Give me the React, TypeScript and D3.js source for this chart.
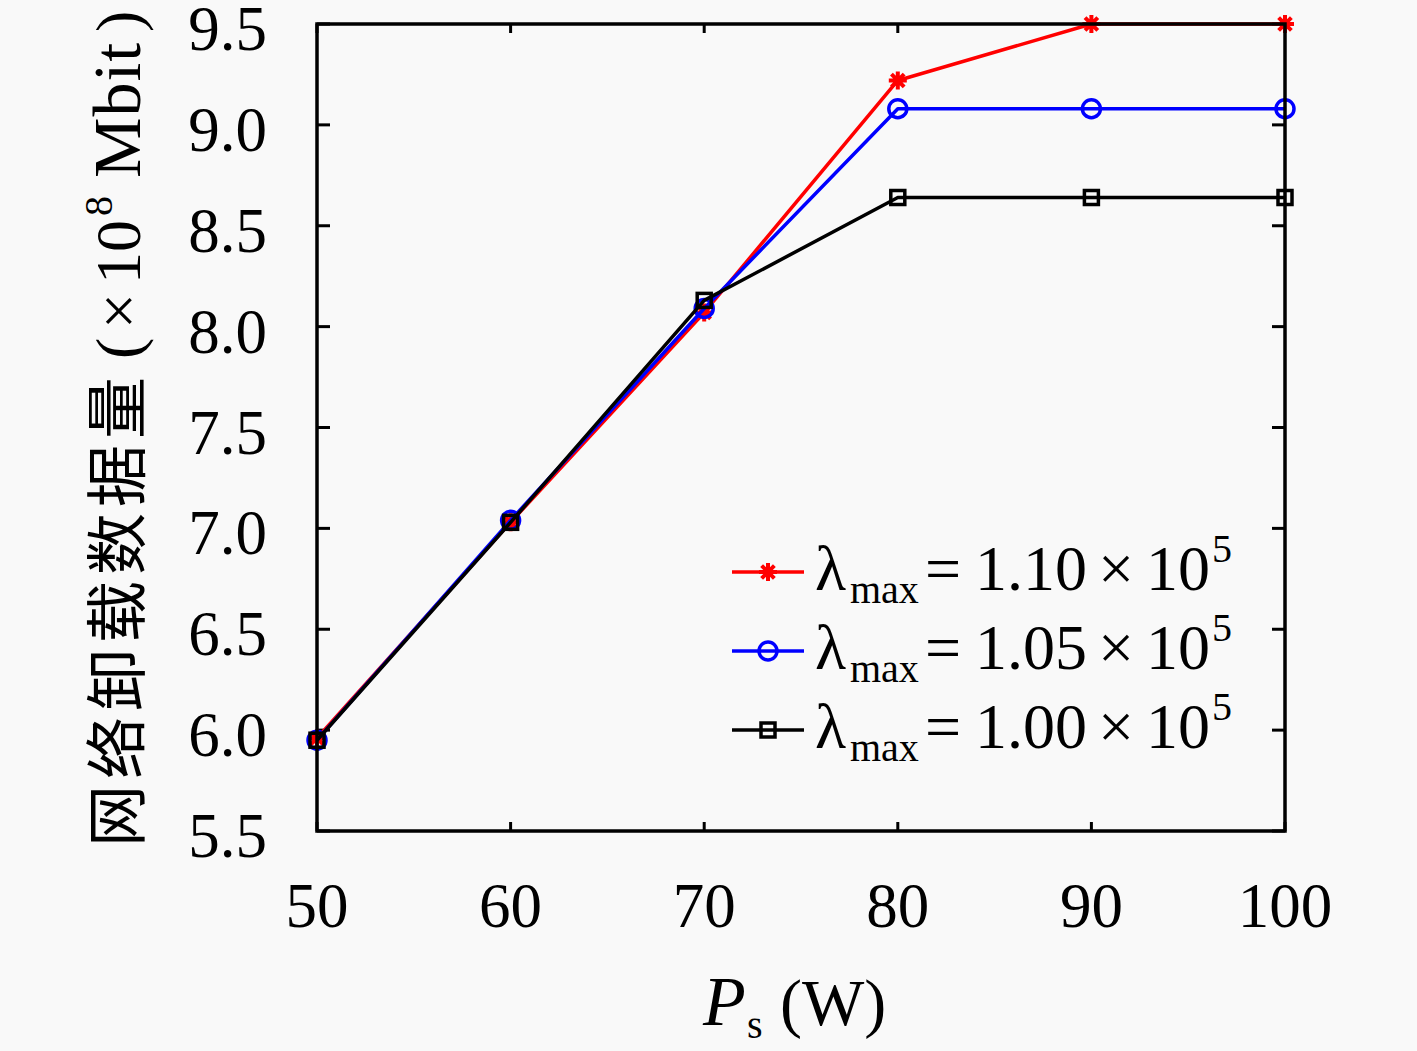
import React from 'react';
import * as d3 from 'd3';

const xValues = [50, 60, 70, 80, 90, 100];
const seriesRed = [5.96, 7.03, 8.07, 9.22, 9.5, 9.5];
const seriesBlue = [5.95, 7.04, 8.09, 9.08, 9.08, 9.08];
const seriesBlack = [5.95, 7.03, 8.13, 8.64, 8.64, 8.64];
const xTicks = [50, 60, 70, 80, 90, 100];
const yTicks = [5.5, 6.0, 6.5, 7.0, 7.5, 8.0, 8.5, 9.0, 9.5];
const legendValues = ['1.10', '1.05', '1.00'];

const W = 1417;
const H = 1051;
const plot = { left: 317, right: 1285, top: 24, bottom: 831 };
const serif = '"Liberation Serif", "DejaVu Serif", serif';
const cjk = '"Noto Sans CJK SC", sans-serif';
const bg = '#f9f9f9';

const asteriskPath = (r: number) => {
  let d = '';
  for (let i = 0; i < 4; i++) {
    const a = (i * Math.PI) / 4;
    const dx = r * Math.cos(a);
    const dy = r * Math.sin(a);
    d += `M${-dx},${-dy}L${dx},${dy}`;
  }
  return d;
};

const Marker = ({ kind, color }: { kind: string; color: string }) => {
  if (kind === 'star') {
    return (
      <g>
        <circle r={4.5} fill={color} />
        <path d={asteriskPath(9)} stroke={color} strokeWidth={4} fill="none" />
      </g>
    );
  }
  if (kind === 'circle') {
    return <circle r={9} stroke={color} strokeWidth={3.5} fill="none" />;
  }
  return <rect x={-7} y={-7} width={14} height={14} stroke={color} strokeWidth={3.5} fill="none" />;
};

export default function App() {
  const x = d3.scaleLinear().domain([50, 100]).range([plot.left, plot.right]);
  const y = d3.scaleLinear().domain([5.5, 9.5]).range([plot.bottom, plot.top]);

  const line = d3
    .line<number>()
    .x((_, i) => x(xValues[i]))
    .y((d) => y(d));

  const series = [
    { values: seriesRed, color: '#ff0000', kind: 'star' },
    { values: seriesBlue, color: '#0000ff', kind: 'circle' },
    { values: seriesBlack, color: '#000000', kind: 'square' },
  ];

  const legendY = [572, 651, 730];

  return (
    <div style={{ position: 'absolute', left: 0, top: 0 }}>
      <svg width={W} height={H} style={{ display: 'block', background: bg }}>
        <rect x={0} y={0} width={W} height={H} fill={bg} />

        {/* ticks, inside the frame */}
        {xTicks.map((t) => (
          <g key={'xt' + t}>
            <line x1={x(t)} x2={x(t)} y1={plot.bottom} y2={plot.bottom - 9} stroke="#000" strokeWidth={3} />
            <line x1={x(t)} x2={x(t)} y1={plot.top} y2={plot.top + 9} stroke="#000" strokeWidth={3} />
            <text x={x(t)} y={927} textAnchor="middle" fontFamily={serif} fontSize={63}>
              {t}
            </text>
          </g>
        ))}
        {yTicks.map((t) => (
          <g key={'yt' + t}>
            <line x1={plot.left} x2={plot.left + 13} y1={y(t)} y2={y(t)} stroke="#000" strokeWidth={3} />
            <line x1={plot.right} x2={plot.right - 13} y1={y(t)} y2={y(t)} stroke="#000" strokeWidth={3} />
            <text x={267} y={y(t) + 26} textAnchor="end" fontFamily={serif} fontSize={63}>
              {t.toFixed(1)}
            </text>
          </g>
        ))}

        {/* series */}
        {series.map((s) => (
          <g key={s.color}>
            <path d={line(s.values) || ''} fill="none" stroke={s.color} strokeWidth={3.5} strokeLinejoin="round" />
            {s.values.map((v, i) => (
              <g key={i} transform={`translate(${x(xValues[i])},${y(v)})`}>
                <Marker kind={s.kind} color={s.color} />
              </g>
            ))}
          </g>
        ))}

        {/* frame */}
        <rect
          x={plot.left}
          y={plot.top}
          width={plot.right - plot.left}
          height={plot.bottom - plot.top}
          fill="none"
          stroke="#000"
          strokeWidth={3.5}
        />

        {/* legend */}
        {series.map((s, i) => (
          <g key={'lg' + i}>
            <line x1={732} x2={804} y1={legendY[i]} y2={legendY[i]} stroke={s.color} strokeWidth={3.5} />
            <g transform={`translate(768,${legendY[i]})`}>
              <Marker kind={s.kind} color={s.color} />
            </g>
            <text y={legendY[i] + 18} fontFamily={serif} fontSize={64}>
              <tspan x={815}>λ</tspan>
              <tspan x={850} fontSize={40} dy={13}>max</tspan>
              <tspan x={925} dy={-13}>=</tspan>
              <tspan x={975}>{legendValues[i]}</tspan>
              <tspan x={1098}>×</tspan>
              <tspan x={1146}>10</tspan>
              <tspan x={1212} fontSize={40} dy={-28}>5</tspan>
            </text>
          </g>
        ))}

        {/* axis labels */}
        <text y={1025} fontFamily={serif} fontSize={66}>
          <tspan x={703} fontStyle="italic" fontSize={70}>P</tspan>
          <tspan x={747} fontSize={40} dy={13}>s</tspan>
          <tspan x={780} dy={-13}>(W)</tspan>
        </text>

        <text transform="translate(140,0) rotate(-90)" fontSize={62}>
          <tspan x={-847} fontFamily={cjk} letterSpacing={6}>网络卸载数据量</tspan>
          <tspan x={-359} fontFamily={serif} fontSize={64}>(</tspan>
          <tspan x={-329} fontFamily={serif} fontSize={64}>×</tspan>
          <tspan x={-284} fontFamily={serif} fontSize={64}>10</tspan>
          <tspan x={-216} fontFamily={serif} fontSize={40} dy={-28}>8</tspan>
          <tspan x={-178} fontFamily={serif} fontSize={68} dy={28} letterSpacing={1}>Mbit</tspan>
          <tspan x={-32} fontFamily={serif} fontSize={64}>)</tspan>
        </text>
      </svg>
    </div>
  );
}
